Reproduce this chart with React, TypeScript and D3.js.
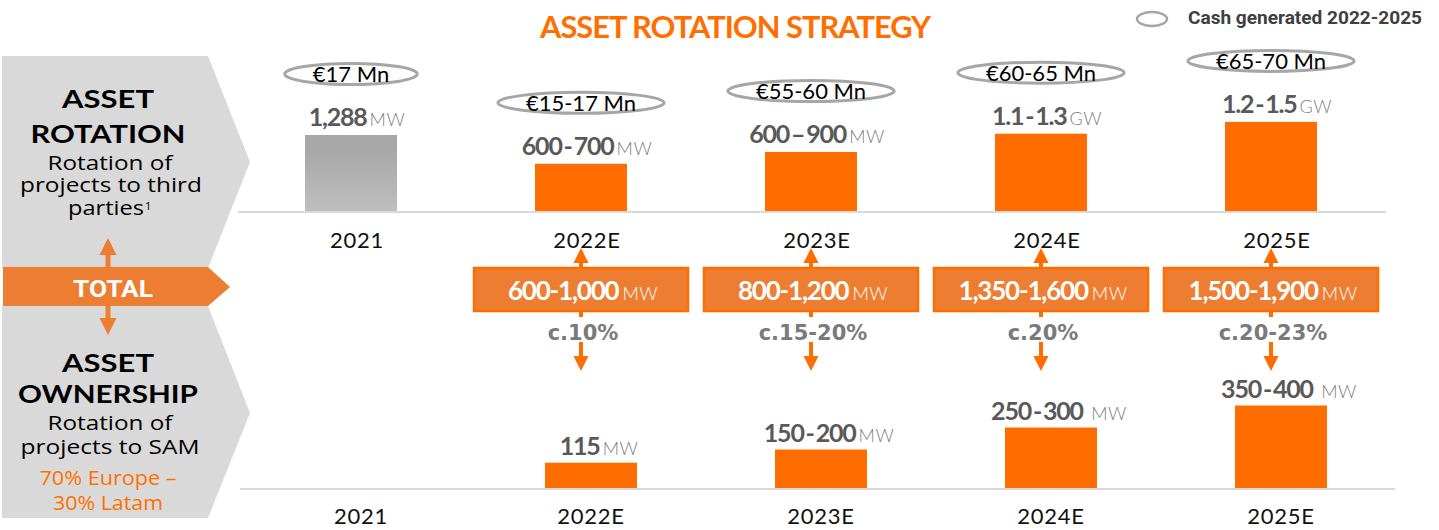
import React, { useEffect, useRef } from 'react';
import * as d3 from 'd3';

// ---------- DATA ----------
const years = ['2021', '2022E', '2023E', '2024E', '2025E'];
// Asset rotation bars (MW equivalent as drawn)
const rotationBars = [1288, 800, 1000, 1310, 1510];
const rotationNum = ['1,288', '600\u2009-\u2009700', '600\u2009\u2013\u2009900', '1.1\u2009-\u20091.3', '1.2\u2009-\u20091.5'];
const rotationUnit = ['MW', 'MW', 'MW', 'GW', 'GW'];
const cashLabels = ['€17 Mn', '€15-17 Mn', '€55-60 Mn', '€60-65 Mn', '€65-70 Mn'];
// Total row
const totalYears = ['2022E', '2023E', '2024E', '2025E'];
const totalNum = ['600-1,000', '800-1,200', '1,350-1,600', '1,500-1,900'];
const ownershipShare = ['c.10%', 'c.15-20%', 'c.20%', 'c.20-23%'];
// Asset ownership bars (MW)
const ownershipYears = ['2022E', '2023E', '2024E', '2025E'];
const ownershipBars = [115, 175, 275, 375];
const ownershipNum = ['115', '150\u2009-\u2009200', '250\u2009-\u2009300', '350\u2009-\u2009400'];
const ownershipUnit = ['MW', 'MW', ' MW', ' MW'];

const ORANGE = '#ff6d00';
const BOX = '#ed7d31';
const GRAYTXT = '#595959';

export default function App() {
  const ref = useRef<SVGSVGElement>(null);

  useEffect(() => {
    const svg = d3.select(ref.current);
    svg.selectAll('*').remove();

    const defs = svg.append('defs');
    const grad = defs.append('linearGradient').attr('id', 'g2021').attr('x1', 0).attr('y1', 0).attr('x2', 0).attr('y2', 1);
    grad.append('stop').attr('offset', '0%').attr('stop-color', '#a8a8a8');
    grad.append('stop').attr('offset', '25%').attr('stop-color', '#a9a9a9');
    grad.append('stop').attr('offset', '100%').attr('stop-color', '#bebebe');

    const xTop = d3.scalePoint<string>().domain(years).range([351, 1271]);
    const xBot = d3.scalePoint<string>().domain(years).range([361, 1281]);
    const yTop = d3.scaleLinear().domain([0, 1288]).range([211, 135]);
    const yBot = d3.scaleLinear().domain([0, 400]).range([488, 400]);
    const barW = 92;

    // ---------- left panels ----------
    svg.append('path').attr('d', 'M2,56 L208,56 L250,162 L208,268 L2,268 Z').attr('fill', '#d9d9d9');
    svg.append('path').attr('d', 'M2,306 L208,306 L250,413 L208,518 L2,518 Z').attr('fill', '#d9d9d9');
    svg.append('path').attr('d', 'M3,267 L208,267 L230,287 L208,306 L3,306 Z').attr('fill', BOX);

    const head = (x: number, y: number, dir: number, hw: number, h: number, color: string) =>
      svg.append('path')
        .attr('d', `M${x - hw},${y} L${x + hw},${y} L${x},${y + dir * h} Z`)
        .attr('fill', color);
    const shaft = (x: number, y1: number, y2: number, color: string, w = 4) =>
      svg.append('line').attr('x1', x).attr('x2', x).attr('y1', y1).attr('y2', y2)
        .attr('stroke', color).attr('stroke-width', w);

    shaft(108, 253, 268, BOX, 5);
    head(108, 255, -1, 8.5, 17, BOX);
    shaft(108, 305, 320, BOX, 5);
    head(108, 318, 1, 8.5, 17, BOX);

    const leftText = (txt: string, y: number, opts: any) => {
      const t = svg.append('text').attr('x', opts.x || 108).attr('y', y).attr('text-anchor', 'middle')
        .attr('font-family', opts.family || '"Open Sans", sans-serif')
        .attr('font-size', opts.size).attr('font-weight', opts.weight || 400)
        .attr('fill', opts.fill || '#000').text(txt);
      if (opts.len) t.attr('textLength', opts.len).attr('lengthAdjust', 'spacingAndGlyphs');
      return t;
    };
    const head1 = { size: 25, weight: 700, family: 'Lato, sans-serif' };
    const sub = 20.5;
    leftText('ASSET', 108, { ...head1, len: 92 });
    leftText('ROTATION', 143, { ...head1, len: 155 });
    leftText('Rotation of', 170, { size: sub, len: 125, x: 110 });
    leftText('projects to third', 192, { size: sub, len: 182, x: 111 });
    leftText('parties', 215, { size: sub, len: 76, x: 106 });
    svg.append('text').attr('x', 145).attr('y', 210).attr('font-family', '"Open Sans", sans-serif')
      .attr('font-size', 11).text('1');
    svg.append('text').attr('x', 113).attr('y', 297).attr('text-anchor', 'middle')
      .attr('font-family', 'Roboto, sans-serif').attr('font-weight', 700).attr('font-size', 24)
      .attr('fill', '#fff').attr('textLength', 80).attr('lengthAdjust', 'spacingAndGlyphs').text('TOTAL');
    leftText('ASSET', 372, { ...head1, len: 92 });
    leftText('OWNERSHIP', 403, { ...head1, len: 180 });
    leftText('Rotation of', 430, { size: sub, len: 125, x: 110 });
    leftText('projects to SAM', 454, { size: sub, len: 179, x: 110 });
    leftText('70% Europe \u2013', 485, { size: sub, fill: '#ff7000', len: 137 });
    leftText('30% Latam', 510, { size: sub, fill: '#ff7000', len: 110 });

    // ---------- baselines ----------
    svg.append('line').attr('x1', 238).attr('x2', 1386).attr('y1', 212).attr('y2', 212)
      .attr('stroke', '#d9d9d9').attr('stroke-width', 2);
    svg.append('line').attr('x1', 240).attr('x2', 1395).attr('y1', 489).attr('y2', 489)
      .attr('stroke', '#d9d9d9').attr('stroke-width', 2);

    // ---------- year labels ----------
    const yearLabel = (x: number, y: number, t: string) =>
      svg.append('text').attr('x', x).attr('y', y).attr('text-anchor', 'middle')
        .attr('font-family', 'Lato, sans-serif').attr('font-size', 22).attr('letter-spacing', 0.8)
        .attr('fill', '#111').text(t);
    years.forEach(y => yearLabel((xTop(y) as number) + 6, 248, y));
    years.forEach(y => yearLabel((xBot(y) as number), 524, y));

    // ---------- top bars ----------
    years.forEach((yr, i) => {
      const cx = xTop(yr) as number;
      svg.append('rect').attr('x', cx - barW / 2).attr('y', yTop(rotationBars[i]))
        .attr('width', barW).attr('height', yTop(0) - yTop(rotationBars[i]))
        .attr('fill', i === 0 ? 'url(#g2021)' : ORANGE);
    });

    const valueLabel = (x: number, y: number, num: string, unit: string, numFill: string, unitFill: string) => {
      const t = svg.append('text').attr('x', x).attr('y', y).attr('text-anchor', 'middle')
        .attr('font-family', 'Lato, sans-serif');
      t.append('tspan').attr('font-size', 25).attr('font-weight', 700).attr('letter-spacing', -1.2)
        .attr('fill', numFill).text(num);
      t.append('tspan').attr('font-size', 18).attr('font-weight', 300).attr('letter-spacing', 0.5)
        .attr('dx', 3).attr('fill', unitFill).text(unit);
      return t;
    };

    years.forEach((yr, i) => {
      const cx = xTop(yr) as number;
      const base = yTop(rotationBars[i]) - 9;
      valueLabel(cx + 6, base, rotationNum[i], rotationUnit[i], GRAYTXT, '#7f7f7f');
      // cash ellipse
      const ecy = base - 52;
      const ct = svg.append('text').attr('x', cx).attr('y', ecy + 8).attr('text-anchor', 'middle')
        .attr('font-family', 'Lato, sans-serif').attr('font-size', 22).attr('fill', '#000').text(cashLabels[i]);
      const w = (ct.node() as SVGTextElement).getComputedTextLength();
      svg.insert('ellipse', 'text').attr('cx', cx).attr('cy', ecy).attr('rx', w / 2 + 28).attr('ry', 10.5)
        .attr('fill', 'none').attr('stroke', '#a6a6a6').attr('stroke-width', 3);
    });

    // ---------- total boxes ----------
    totalYears.forEach((yr, i) => {
      const cx = xTop(yr) as number;
      // arrows
      shaft(cx, 260, 268, ORANGE);
      head(cx, 263, -1, 7.5, 15, ORANGE);
      shaft(cx, 310, 317, ORANGE);
      shaft(cx, 342, 357, ORANGE);
      head(cx, 356, 1, 7.5, 15, ORANGE);

      svg.append('rect').attr('x', cx - 107).attr('y', 268).attr('width', 214).attr('height', 43)
        .attr('fill', BOX).attr('stroke', ORANGE).attr('stroke-width', 2.5);
      const t = svg.append('text').attr('x', cx + 2).attr('y', 300).attr('text-anchor', 'middle')
        .attr('font-family', 'Lato, sans-serif');
      t.append('tspan').attr('font-size', 26).attr('font-weight', 700).attr('letter-spacing', -1.2)
        .attr('fill', '#fff').text(totalNum[i]);
      t.append('tspan').attr('font-size', 18).attr('font-weight', 300).attr('letter-spacing', 0.5)
        .attr('dx', 4).attr('fill', '#fff').text('MW');

      svg.append('text').attr('x', cx + 2).attr('y', 340).attr('text-anchor', 'middle')
        .attr('font-family', '"DejaVu Sans", sans-serif').attr('font-weight', 700).attr('font-size', 21)
        .attr('fill', '#7a7a7a').text(ownershipShare[i]);
    });

    // ---------- bottom bars ----------
    ownershipYears.forEach((yr, i) => {
      const cx = xBot(yr) as number;
      svg.append('rect').attr('x', cx - barW / 2).attr('y', yBot(ownershipBars[i]))
        .attr('width', barW).attr('height', yBot(0) - yBot(ownershipBars[i])).attr('fill', ORANGE);
      valueLabel(cx + 8, yBot(ownershipBars[i]) - 8, ownershipNum[i], ownershipUnit[i], GRAYTXT, '#7f7f7f');
    });

    // ---------- title & legend ----------
    svg.append('text').attr('x', 735).attr('y', 38).attr('text-anchor', 'middle')
      .attr('font-family', 'Lato, sans-serif').attr('font-weight', 700).attr('font-size', 31)
      .attr('letter-spacing', -1).attr('fill', '#ff6f00')
      .attr('textLength', 390).attr('lengthAdjust', 'spacingAndGlyphs').text('ASSET ROTATION STRATEGY');

    svg.append('ellipse').attr('cx', 1152).attr('cy', 19).attr('rx', 15).attr('ry', 7)
      .attr('fill', 'none').attr('stroke', '#a6a6a6').attr('stroke-width', 2.5);
    svg.append('text').attr('x', 1188).attr('y', 24)
      .attr('font-family', 'Roboto, sans-serif').attr('font-weight', 700).attr('font-size', 18)
      .attr('fill', '#404040').attr('textLength', 234).attr('lengthAdjust', 'spacingAndGlyphs')
      .text('Cash generated 2022-2025');
  }, []);

  return (
    <svg ref={ref} width={1439} height={530}
      style={{ position: 'absolute', left: 0, top: 0, background: '#fff' }} />
  );
}
